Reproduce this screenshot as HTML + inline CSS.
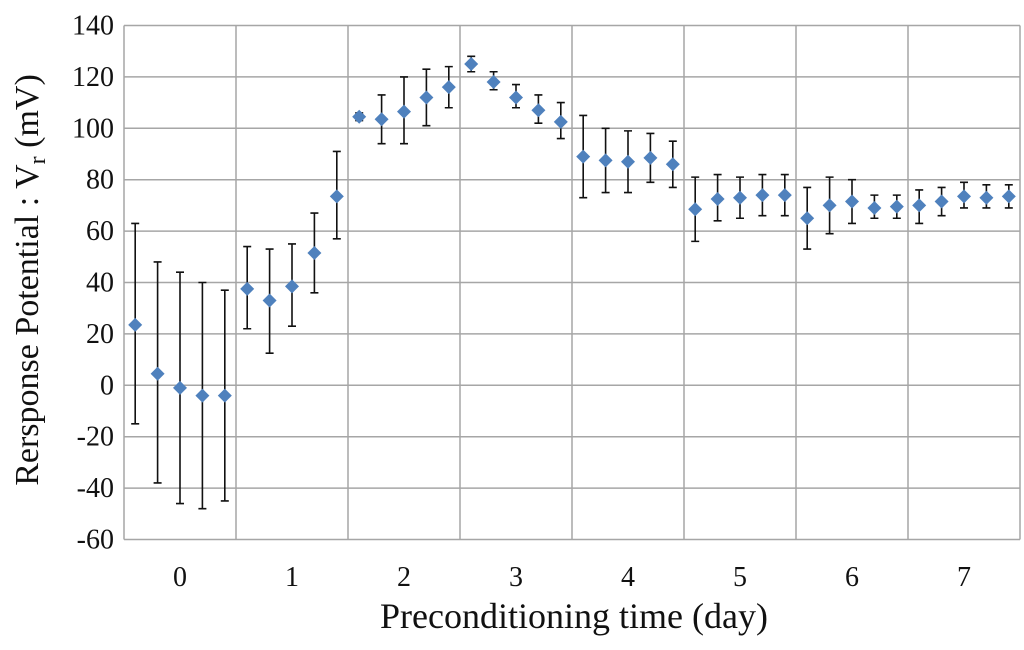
<!DOCTYPE html>
<html><head><meta charset="utf-8"><style>
body{margin:0;background:#fff}
svg text{font-family:"Liberation Serif",serif;fill:#111}
</style></head><body>
<svg width="1024" height="645" xmlns="http://www.w3.org/2000/svg">
<g id="grid"></g>
<g id="yt"></g>
<g id="xt"></g>
<g id="err"></g>
<g id="pts"></g>
<text transform="translate(38,280) rotate(-90)" text-anchor="middle" font-size="34">Rersponse Potential : V<tspan font-size="24" dy="7">r</tspan><tspan dy="-7"> (mV)</tspan></text>
<text x="574" y="628" text-anchor="middle" font-size="36">Preconditioning time (day)</text>
</svg>
<script>
const categories=["0","1","2","3","4","5","6","7"];
const yTicks=[-60,-40,-20,0,20,40,60,80,100,120,140];
const values=[23.5,4.5,-1,-4,-4, 37.5,33,38.5,51.5,73.5, 104.5,103.5,106.5,112,116, 125,118,112,107,102.5, 89,87.5,87,88.5,86, 68.5,72.5,73,74,74, 65,70,71.5,69,69.5, 70,71.5,73.5,73,73.5];
const errHigh=[63,48,44,40,37, 54,53,55,67,91, 106,113,120,123,124, 128,122,117,113,110, 105,100,99,98,95, 81,82,81,82,82, 77,81,80,74,74, 76,77,79,78,78];
const errLow=[-15,-38,-46,-48,-45, 22,12.5,23,36,57, 103,94,94,101,108, 122,115,108,102,96, 73,75,75,79,77, 56,64,65,66,66, 53,59,63,65,65, 63,66,69,69,69];
const L=124,R=1020,T=25.5,B=539.5,ymin=-60,ymax=140;
const cw=(R-L)/categories.length, per=values.length/categories.length;
const y=v=>B-(v-ymin)/(ymax-ymin)*(B-T);
const x=i=>L+(i+0.5)*cw/per;
const NS="http://www.w3.org/2000/svg";
function mk(p,t,a){const e=document.createElementNS(NS,t);for(const k in a)e.setAttribute(k,a[k]);p.appendChild(e);return e;}
const g=document.getElementById('grid');
yTicks.forEach(v=>{const l=mk(g,'line',{x1:L,x2:R,y1:y(v),y2:y(v),stroke:'#a6a6a6','stroke-width':1.5});


const t=mk(document.getElementById('yt'),'text',{x:L-10,y:y(v)+9,'text-anchor':'end','font-size':28});t.textContent=v;

});
for(let c=0;c<=categories.length;c++){const l=mk(g,'line',{x1:L+c*cw,x2:L+c*cw,y1:T,y2:B,stroke:'#a6a6a6','stroke-width':1.5});

}
categories.forEach((c,i)=>{const t=mk(document.getElementById('xt'),'text',{x:L+(i+0.5)*cw,y:586,'text-anchor':'middle','font-size':28});t.textContent=c;

});
const eg=document.getElementById('err'),pg=document.getElementById('pts');
values.forEach((v,i)=>{const X=x(i),h=y(errHigh[i]),lo=y(errLow[i]);
const e=mk(eg,'path',{d:`M${X},${h}V${lo}M${X-4},${h}H${X+4}M${X-4},${lo}H${X+4}`,stroke:'#111','stroke-width':1.6,fill:'none'});


const Y=y(v),s=7;
const p=mk(pg,'path',{d:`M${X},${Y-s}L${X+s},${Y}L${X},${Y+s}L${X-s},${Y}Z`,fill:'#4f81bd'});

});
</script>
</body></html>
